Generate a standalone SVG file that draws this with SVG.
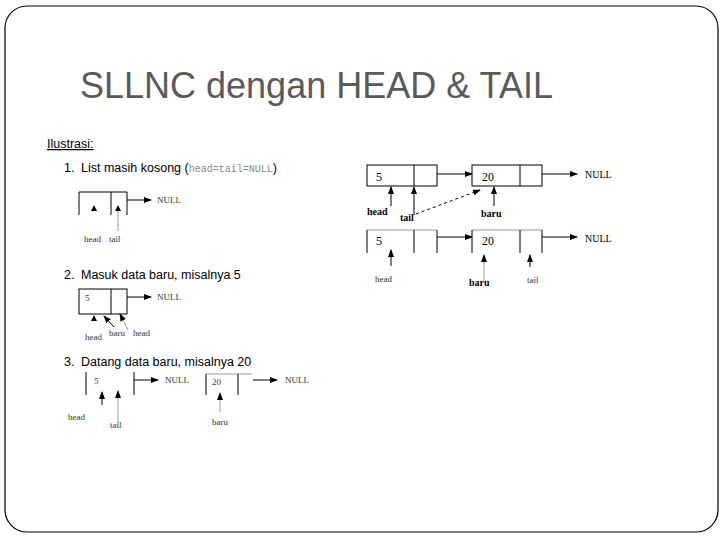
<svg xmlns="http://www.w3.org/2000/svg" width="720" height="540" viewBox="0 0 720 540">
<style>
.frame{fill:#fff;stroke:#000;stroke-width:1.2}
.title{font-family:"Liberation Sans",Arial,sans-serif;font-size:36px;fill:#5a5a5a}
.h{font-family:"Liberation Sans",Arial,sans-serif;font-size:12.5px;fill:#000}
.mono{font-family:"Liberation Mono",monospace;font-size:10px;fill:#888}
.lbl{font-family:"Liberation Serif","Times New Roman",serif;font-size:10px;fill:#000}
.lbl2{font-family:"Liberation Serif","Times New Roman",serif;font-size:9px;fill:#333}
.num{font-family:"Liberation Serif","Times New Roman",serif;font-size:12px;fill:#000}
.box{fill:none;stroke:#000;stroke-width:1}
.ln{stroke:#000;stroke-width:1;fill:none}
.lg{stroke:#999;stroke-width:1;fill:none}
</style>
<defs>
<marker id="ah" markerWidth="8" markerHeight="6" refX="7" refY="3" orient="auto" markerUnits="userSpaceOnUse">
<path d="M0,0 L8,3 L0,6 z" fill="#000"/>
</marker>
</defs>
<rect class="frame" x="5" y="6" width="713" height="526" rx="22" ry="22"/>
<text class="title" x="80" y="98">SLLNC dengan HEAD &amp; TAIL</text>
<text class="h" x="47" y="148" text-decoration="underline">Ilustrasi:</text>
<text class="h" x="64" y="172">1.</text>
<text class="h" x="81" y="172">List masih kosong (<tspan class="mono">head=tail=NULL</tspan>)</text>
<text class="h" x="64" y="279">2.</text>
<text class="h" x="81" y="279">Masuk data baru, misalnya 5</text>
<text class="h" x="64" y="366">3.</text>
<text class="h" x="81" y="366">Datang data baru, misalnya 20</text>

<g id="node1">
<path class="ln" d="M79,215 V192 H127 V215 M111,192 V215"/>
<text class="lbl2" x="157" y="203">NULL</text>
<text class="lbl2" x="84" y="242">head</text>
<text class="lbl2" x="109" y="242">tail</text>
</g>
<g id="node2">
<rect class="box" x="79" y="289" width="48" height="25"/>
<line class="ln" x1="111" y1="289" x2="111" y2="314"/>
<text class="lbl2" x="85" y="301">5</text>
<text class="lbl2" x="157" y="300">NULL</text>
<text class="lbl2" x="85" y="340">head</text>
<text class="lbl2" x="109" y="336">baru</text>
<text class="lbl2" x="133" y="336">head</text>
</g>
<g id="node3a">
<path class="ln" d="M86,372 V395 M134,372 V395"/>
<text class="lbl2" x="94" y="384">5</text>
<text class="lbl2" x="165" y="383">NULL</text>
<text class="lbl2" x="68" y="420">head</text>
<text class="lbl2" x="110" y="428">tail</text>
</g>
<g id="node3b">
<path class="lg" d="M206,374 H252"/>
<path class="ln" d="M206,374 V395 M238,374 V395"/>
<text class="lbl2" x="212" y="385">20</text>
<text class="lbl2" x="285" y="383">NULL</text>
<text class="lbl2" x="212" y="425">baru</text>
</g>
<g id="nodeA1">
<rect class="box" x="367" y="165" width="70" height="21"/>
<line class="ln" x1="414" y1="165" x2="414" y2="186"/>
<text class="num" x="376" y="181">5</text>
<text class="lbl" x="367" y="215" font-weight="bold">head</text>
<text class="lbl" x="400" y="221" font-weight="bold">tail</text>
</g>
<g id="nodeA2">
<rect class="box" x="472" y="165" width="70" height="21"/>
<line class="ln" x1="520" y1="165" x2="520" y2="186"/>
<text class="num" x="482" y="181">20</text>
<text class="lbl" x="585" y="178">NULL</text>
<text class="lbl" x="481" y="217" font-weight="bold">baru</text>
</g>
<g id="nodeB1">
<path class="lg" d="M367,230 H437"/>
<path class="ln" d="M367,230 V253 M414,230 V253 M437,230 V253"/>
<text class="num" x="376" y="245">5</text>
<text class="lbl2" x="375" y="282">head</text>
</g>
<g id="nodeB2">
<path class="lg" d="M472,230 H542"/>
<path class="ln" d="M472,230 V253 M520,230 V253 M542,230 V253"/>
<text class="num" x="482" y="245">20</text>
<text class="lbl" x="585" y="242">NULL</text>
<text class="lbl" x="469" y="286" font-weight="bold">baru</text>
<text class="lbl2" x="527" y="283">tail</text>
</g>

<g id="connectors">
<line class="ln" x1="127" y1="200" x2="151" y2="200" marker-end="url(#ah)"/>
<path d="M91,211 L94,205 L97,211 z" fill="#000"/>
<line class="lg" x1="118" y1="231" x2="118" y2="210"/>
<path d="M115,211 L118,205 L121,211 z" fill="#000"/>

<line class="ln" x1="127" y1="297" x2="151" y2="297" marker-end="url(#ah)"/>
<path d="M91,321 L94,315 L97,321 z" fill="#000"/>
<line class="ln" x1="114" y1="327" x2="104" y2="316" marker-end="url(#ah)"/>
<line class="lg" x1="128" y1="330" x2="120" y2="314" marker-end="url(#ah)"/>

<line class="ln" x1="134" y1="380" x2="158" y2="380" marker-end="url(#ah)"/>
<line class="ln" x1="102" y1="405" x2="102" y2="392" marker-end="url(#ah)"/>
<line class="lg" x1="118" y1="425" x2="118" y2="391" marker-end="url(#ah)"/>
<line class="ln" x1="253" y1="380" x2="277" y2="380" marker-end="url(#ah)"/>
<line class="lg" x1="220" y1="412" x2="220" y2="393" marker-end="url(#ah)"/>

<line class="ln" x1="437" y1="174" x2="472" y2="174" marker-end="url(#ah)"/>
<line class="ln" x1="542" y1="174" x2="577" y2="174" marker-end="url(#ah)"/>
<line class="ln" x1="391" y1="206" x2="391" y2="187" marker-end="url(#ah)"/>
<line class="ln" x1="414" y1="215" x2="414" y2="187" marker-end="url(#ah)"/>
<line class="ln" x1="494" y1="206" x2="494" y2="187" marker-end="url(#ah)"/>
<line class="ln" x1="416" y1="214" x2="480" y2="190" stroke-dasharray="3,3" marker-end="url(#ah)"/>

<line class="ln" x1="437" y1="237" x2="472" y2="237" marker-end="url(#ah)"/>
<line class="ln" x1="542" y1="237" x2="577" y2="237" marker-end="url(#ah)"/>
<line class="ln" x1="391" y1="266" x2="391" y2="250" marker-end="url(#ah)"/>
<line class="lg" x1="484" y1="282" x2="484" y2="255" marker-end="url(#ah)"/>
<line class="ln" x1="530" y1="267" x2="530" y2="255" marker-end="url(#ah)"/>
</g>
</svg>
